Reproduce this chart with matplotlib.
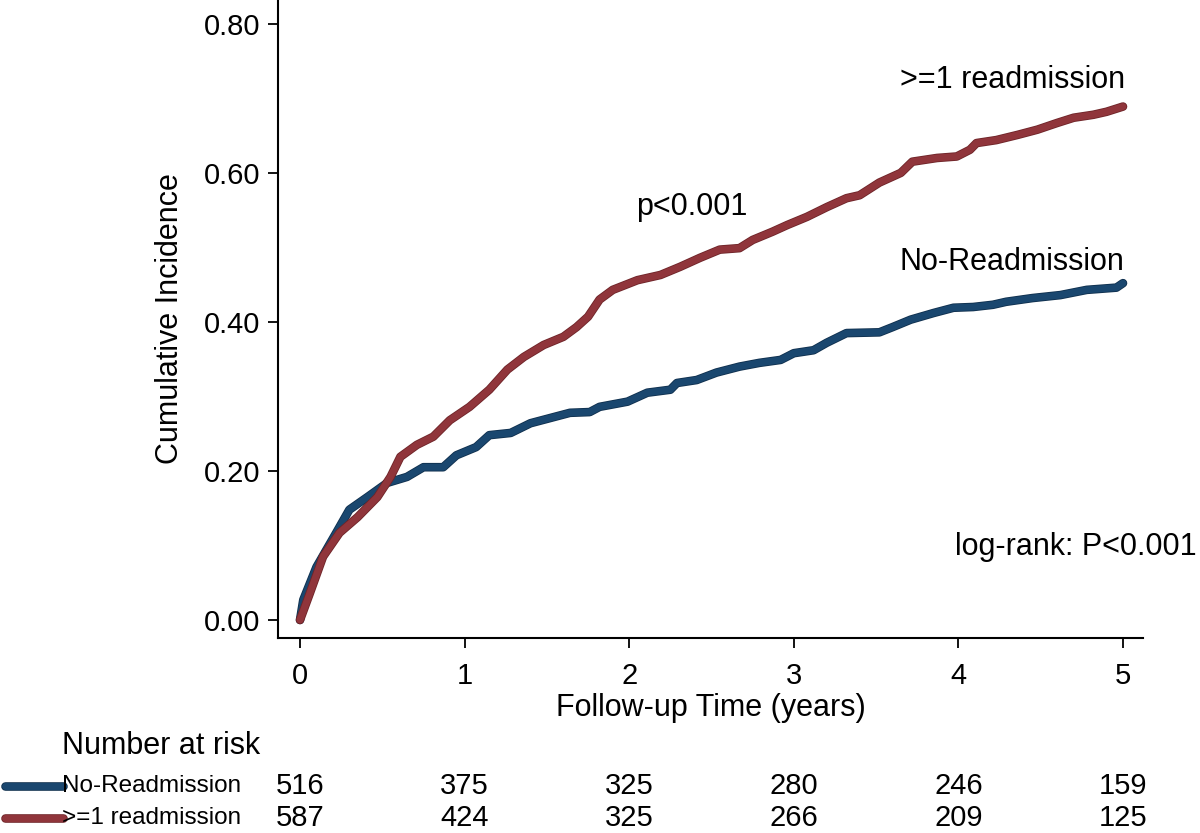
import matplotlib
matplotlib.use("Agg")
import matplotlib.pyplot as plt
import matplotlib.patheffects as pe
from matplotlib.lines import Line2D
import matplotlib.transforms as mtransforms

plt.rcParams['font.family'] = ['Liberation Sans', 'DejaVu Sans']

# ---- data ----
t_noread = [0.00, 0.02, 0.10, 0.22, 0.30, 0.41, 0.53, 0.65, 0.75, 0.87, 0.95, 1.07,
            1.15, 1.28, 1.40, 1.52, 1.64, 1.76, 1.82, 1.99, 2.11, 2.25, 2.29, 2.41,
            2.53, 2.67, 2.79, 2.92, 3.00, 3.12, 3.20, 3.32, 3.52, 3.60, 3.71, 3.85,
            3.97, 4.09, 4.21, 4.29, 4.45, 4.62, 4.78, 4.96, 5.00]
ci_noread = [0.000, 0.027, 0.071, 0.117, 0.148, 0.165, 0.184, 0.192, 0.205, 0.205, 0.221, 0.232,
             0.248, 0.251, 0.264, 0.271, 0.278, 0.279, 0.286, 0.293, 0.305, 0.309, 0.318, 0.322,
             0.332, 0.340, 0.345, 0.349, 0.358, 0.362, 0.372, 0.385, 0.386, 0.393, 0.403, 0.412,
             0.419, 0.420, 0.423, 0.427, 0.432, 0.436, 0.443, 0.446, 0.452]

t_read = [0.00, 0.06, 0.14, 0.24, 0.35, 0.47, 0.55, 0.61, 0.71, 0.81, 0.91, 1.03,
          1.15, 1.26, 1.36, 1.48, 1.60, 1.68, 1.75, 1.82, 1.90, 2.05, 2.19, 2.31,
          2.43, 2.55, 2.67, 2.75, 2.87, 2.96, 3.08, 3.20, 3.32, 3.40, 3.52, 3.65,
          3.72, 3.87, 3.99, 4.07, 4.11, 4.23, 4.36, 4.48, 4.60, 4.70, 4.82, 4.90, 5.00]
ci_read = [0.000, 0.036, 0.085, 0.117, 0.138, 0.165, 0.192, 0.219, 0.235, 0.246, 0.268, 0.286,
           0.309, 0.336, 0.353, 0.369, 0.380, 0.393, 0.407, 0.430, 0.443, 0.456, 0.463, 0.474,
           0.486, 0.497, 0.499, 0.510, 0.521, 0.530, 0.541, 0.554, 0.566, 0.570, 0.587, 0.600,
           0.615, 0.620, 0.622, 0.631, 0.640, 0.644, 0.651, 0.658, 0.667, 0.674, 0.678, 0.682, 0.689]

risk_times = [0, 1, 2, 3, 4, 5]
risk_noread = [516, 375, 325, 280, 246, 159]
risk_read = [587, 424, 325, 266, 209, 125]
group_labels = ["No-Readmission", ">=1 readmission"]
y_ticks = [0.0, 0.2, 0.4, 0.6, 0.8]
x_ticks = [0, 1, 2, 3, 4, 5]

BLUE = '#1a476f'
RED = '#90353b'
FS_TICK = 21
FS_LAB = 22
FS_ROW = 17.5

fig = plt.figure(figsize=(12, 8.33), dpi=100)
W, H = 1200, 833
ax = fig.add_axes([278 / W, 1 - 638 / H, (1143 - 278) / W, 638 / H])

def draw(t, y, c, edge):
    ax.plot(t, y, color=c, lw=5.0, solid_capstyle='round', solid_joinstyle='round',
            path_effects=[pe.Stroke(linewidth=6.2, foreground=edge), pe.Normal()])

draw(t_noread, ci_noread, BLUE, '#0f2f4d')
draw(t_read, ci_read, RED, '#6e2428')

ax.set_xlim(-0.1337, 5.1215)
ax.set_ylim(-0.0242, 0.832)
ax.set_xticks(x_ticks)
ax.set_yticks(y_ticks)
ax.set_yticklabels([f"{v:.2f}" for v in y_ticks])
ax.spines['top'].set_visible(False)
ax.spines['right'].set_visible(False)
for s in ('left', 'bottom'):
    ax.spines[s].set_linewidth(1.5)
ax.tick_params(axis='both', direction='out', length=7, width=1.3, labelsize=FS_TICK, pad=6)
ax.tick_params(axis='x', pad=10)

ax.set_ylabel("Cumulative Incidence", fontsize=FS_LAB)
ax.yaxis.set_label_coords(-0.125, 0.5)
ax.set_xlabel("Follow-up Time (years)", fontsize=FS_LAB)
ax.xaxis.set_label_coords(0.5, -0.11)
ax.xaxis.label.set_va('center')
ax.yaxis.label.set_va('center')

ax.text(2.38, 0.554, "p<0.001", fontsize=FS_LAB, ha='center', va='center')
ax.text(5.01, 0.725, group_labels[1], fontsize=FS_LAB, ha='right', va='center')
ax.text(5.01, 0.48, group_labels[0], fontsize=FS_LAB, ha='right', va='center')
ax.text(3.98, 0.098, "log-rank: P<0.001", fontsize=FS_LAB, ha='left', va='center')

# ---- number at risk table ----
trans = mtransforms.blended_transform_factory(ax.transData, fig.transFigure)
fig.text(62 / W, 1 - 746 / H, "Number at risk", fontsize=FS_LAB, ha='left', va='center')
rows = [(risk_noread, 1 - 786 / H, BLUE, '#0f2f4d'), (risk_read, 1 - 818 / H, RED, '#6e2428')]
for (vals, yy, c, edge), lab in zip(rows, group_labels):
    fig.add_artist(Line2D([5 / W, 63 / W], [yy, yy], color=c, lw=5.0, solid_capstyle='round',
                          path_effects=[pe.Stroke(linewidth=6.2, foreground=edge), pe.Normal()]))
    fig.text(62 / W, yy, lab, fontsize=FS_ROW, ha='left', va='center')
    for tt, v in zip(risk_times, vals):
        ax.text(tt, yy, str(v), transform=trans, fontsize=FS_TICK, ha='center', va='center', clip_on=False)

fig.savefig("out.png", dpi=100)
